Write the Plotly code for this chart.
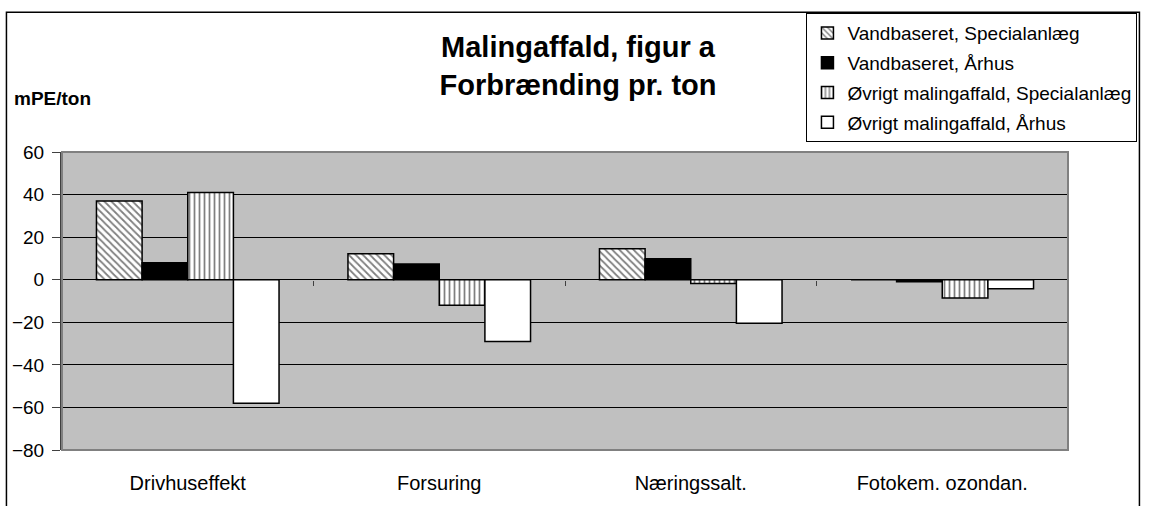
import plotly.graph_objects as go

categories = ["Drivhuseffekt", "Forsuring", "Næringssalt.", "Fotokem. ozondan."]
series_names = [
    "Vandbaseret, Specialanlæg",
    "Vandbaseret, Århus",
    "Øvrigt malingaffald, Specialanlæg",
    "Øvrigt malingaffald, Århus",
]
vand_special = [37, 12.2, 14.5, 0]
vand_aarhus = [8, 7.4, 9.8, -1]
ovrigt_special = [41, -12, -1.8, -8.6]
ovrigt_aarhus = [-58, -29, -20.5, -4.2]
y_ticks = [60, 40, 20, 0, -20, -40, -60, -80]

FONT = "Arial, Liberation Sans, sans-serif"

styles = [
    dict(color="white", pattern=dict(shape="\\", fgcolor="black", bgcolor="white", size=5, solidity=0.35)),
    dict(color="black"),
    dict(color="white", pattern=dict(shape="|", fgcolor="black", bgcolor="white", size=5, solidity=0.35)),
    dict(color="white"),
]

fig = go.Figure()
for i, (name, vals) in enumerate(zip(series_names, [vand_special, vand_aarhus, ovrigt_special, ovrigt_aarhus])):
    m = dict(styles[i])
    m["line"] = dict(color="black", width=1.5)
    fig.add_trace(go.Bar(x=categories, y=vals, name=name, marker=m, legendgroup=f"g{i}"))

fig.update_layout(
    width=1149, height=506,
    margin=dict(l=62, r=73, t=152, b=47),
    paper_bgcolor="white",
    plot_bgcolor="#C0C0C0",
    barmode="group",
    bargap=0.274,
    bargroupgap=0,
    font=dict(family=FONT, color="black", size=19),
    title=dict(
        text="<b>Malingaffald, figur a<br>Forbrænding pr. ton</b>",
        x=578 / 1149, xanchor="center", xref="container",
        y=1 - 57 / 506, yanchor="middle", yref="container",
        font=dict(family=FONT, size=29, color="black"),
    ),
    legend=dict(
        x=(1146 - 62) / 1014, xanchor="right", xref="paper",
        y=(459 - 9) / 307, yanchor="top", yref="paper",
        bordercolor="black", borderwidth=1, bgcolor="white",
        font=dict(family=FONT, size=19, color="black"),
        tracegroupgap=2,
        itemwidth=30,
    ),
    showlegend=True,
)

fig.update_yaxes(
    range=[-80, 60],
    tickvals=y_ticks,
    showgrid=True, gridcolor="black", gridwidth=1,
    zeroline=True, zerolinecolor="black", zerolinewidth=1.2,
    showline=True, linecolor="#404040", linewidth=2,
    ticks="outside", ticklen=8, tickcolor="#404040", tickwidth=1,
    ticklabelstandoff=4,
    tickfont=dict(size=19),
)
fig.update_xaxes(
    showline=False, ticks="", showgrid=False,
    tickfont=dict(size=20),
    ticklabelstandoff=19,
)

# secondary category axis drawn along zero line for Excel-like tick marks
fig.update_layout(
    xaxis2=dict(
        overlaying="x", anchor="free", position=80 / 140, side="bottom",
        range=[-0.5, 3.5], tickvals=[0.5, 1.5, 2.5], ticktext=["", "", ""],
        ticks="outside", ticklen=5, tickcolor="#404040", tickwidth=1,
        showgrid=False, zeroline=False, showline=False, showticklabels=False,
    )
)
fig.add_trace(go.Scatter(x=[0], y=[0], xaxis="x2", yaxis="y", mode="markers",
                         marker=dict(opacity=0), showlegend=False, hoverinfo="skip"))

# plot area border
fig.add_shape(type="rect", xref="paper", yref="paper", x0=0, x1=1, y0=0, y1=1,
              line=dict(color="#808080", width=2), layer="above")
# outer chart border
fig.add_shape(type="rect", xref="paper", yref="paper",
              x0=(6 - 62) / 1014, x1=(1148 - 62) / 1014,
              y0=(459 - 520) / 307, y1=(459 - 8) / 307,
              line=dict(color="black", width=1.5), layer="below")

fig.add_annotation(
    text="<b>mPE/ton</b>", xref="paper", yref="paper",
    x=(12 - 62) / 1014, xanchor="left", y=(459 - 97) / 307, yanchor="middle",
    showarrow=False, font=dict(family=FONT, size=19, color="black"),
)

fig.write_html("out.html", config={"displayModeBar": False},
               post_script="document.body.style.margin='0';")
